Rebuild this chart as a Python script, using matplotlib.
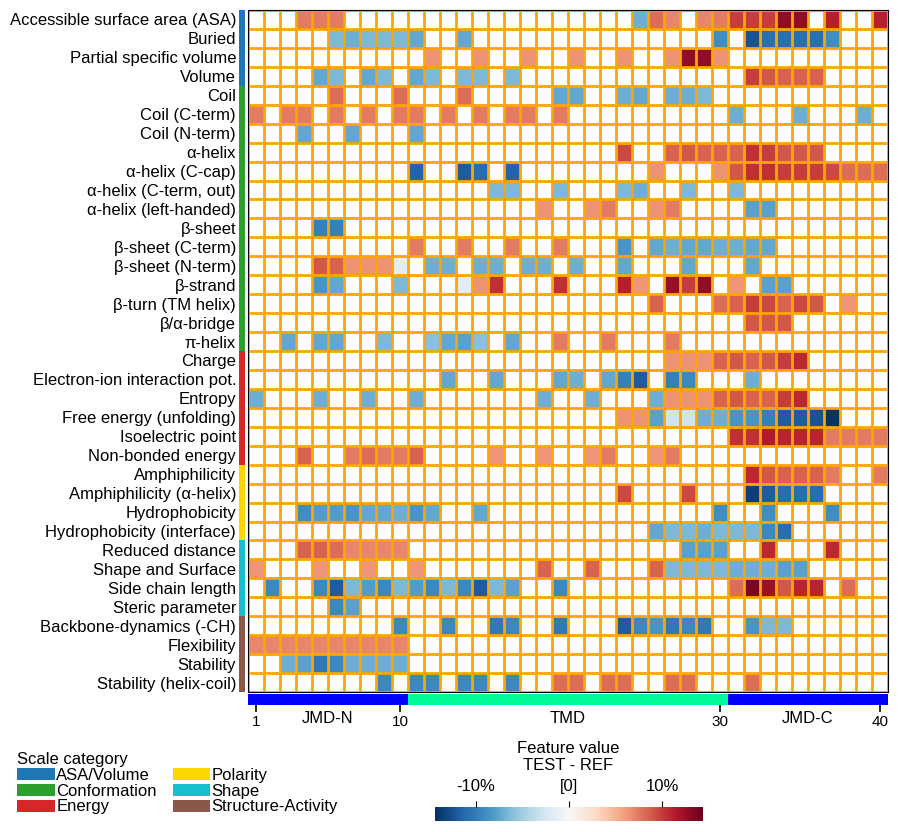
import numpy as np
import matplotlib
matplotlib.use("Agg")
import matplotlib.pyplot as plt
from matplotlib.colors import ListedColormap
from matplotlib.patches import Patch
from matplotlib.transforms import blended_transform_factory

plt.rcParams['font.family'] = ['Liberation Sans', 'DejaVu Sans']

N_POS = 40

# part lengths of the sequence (JMD-N / TMD / JMD-C)
jmd_n_len, tmd_len, jmd_c_len = 10, 20, 10
part_labels = ["JMD-N", "TMD", "JMD-C"]
pos_ticks = [1, 10, 30, 40]

# scale categories
categories = ["ASA/Volume", "Conformation", "Energy", "Polarity", "Shape", "Structure-Activity"]
cat_colors = ["#1f77b4", "#2ca02c", "#d62728", "gold", "#17becf", "#8c564b"]

# feature values (TEST - REF, %) per scale: {position: value}
asa_names = ["Accessible surface area (ASA)", "Buried", "Partial specific volume", "Volume"]
asa_vals = [
    {4: 7.5, 5: 7.5, 6: 7.5, 25: -7, 26: 8, 27: 7, 29: 7, 30: 7.5, 31: 10, 32: 10, 33: 10,
     34: 12.8, 35: 12.8, 37: 11.2, 40: 11.2},
    {6: -6.5, 7: -7, 8: -6.5, 9: -6.5, 10: -6.5, 11: -7.5, 14: -7.5, 30: -9, 32: -12.4,
     33: -10.9, 34: -10.9, 35: -10.9, 36: -10.9, 37: -9},
    {12: 6.5, 15: 6.5, 18: 6.5, 21: 6.5, 24: 6.5, 27: 6.5, 28: 12.8, 29: 12.8, 30: 6.5},
    {5: -7.5, 6: -6.5, 8: -7.5, 9: -6.5, 11: -7.5, 12: -6.5, 14: -6.5, 15: -6.5, 17: -6.5,
     32: 10, 33: 9, 34: 8.5, 35: 8.5, 36: 8.5},
]

conf_names = ["Coil", "Coil (C-term)", "Coil (N-term)", "α-helix", "α-helix (C-cap)",
              "α-helix (C-term, out)", "α-helix (left-handed)", "β-sheet", "β-sheet (C-term)",
              "β-sheet (N-term)", "β-strand", "β-turn (TM helix)", "β/α-bridge", "π-helix"]
conf_vals = [
    {6: 8, 10: 8, 14: 8, 20: -7.5, 21: -7.5, 24: -7, 25: -7.5, 27: -7, 28: -7, 29: -6.5},
    {1: 7.5, 3: 7.5, 4: 7.5, 6: 7.5, 8: 7.5, 10: 7.5, 11: 7.5, 13: 7.5, 15: 7.5, 17: 7.5,
     18: 7.5, 20: 7.5, 31: -7, 35: -7, 39: -7},
    {4: -7.5, 7: -7.5, 11: -7.5},
    {24: 9.5, 27: 8.5, 28: 9, 29: 8.5, 30: 8.5, 31: 8.5, 32: 10.5, 33: 10, 34: 9, 35: 9, 36: 9},
    {11: -11.5, 14: -12, 15: -11, 17: -11.5, 26: 6.5, 30: 6.5, 31: 9, 32: 10.5, 33: 10.5,
     34: 10, 35: 10, 36: 10, 37: 9.5, 38: 8, 39: 8, 40: 8},
    {16: -6.5, 17: -6.5, 20: -6.5, 24: -6.5, 25: -7, 28: -6.5, 31: -6.5},
    {19: 6.5, 22: 6.5, 23: 7.5, 26: 6.5, 27: 7.5, 32: -7.8, 33: -7.8},
    {5: -9.8, 6: -9.8},
    {11: 7.5, 14: 7.5, 17: 7.5, 20: 7.5, 24: -8.5, 26: -7.5, 27: -7, 28: -7.5, 29: -7.5,
     30: -7, 31: -7, 32: -7.5, 33: -7.5},
    {5: 9, 6: 8.5, 7: 6.5, 8: 6.5, 9: 6.5, 10: -1.5, 12: -7, 13: -7, 15: -7, 16: -7, 18: -7,
     19: -7, 21: -7, 24: -7.5, 28: -7.5, 32: -7.5},
    {5: -8.5, 6: -7.5, 10: -6.5, 14: -1.5, 15: 6.5, 16: 10.5, 20: 10.5, 24: 11.2, 25: 6.3,
     27: 12.5, 28: 10, 29: 12.8, 31: 6.3, 33: -7.8, 34: -7.8},
    {26: 8.5, 30: 8, 31: 8.5, 32: 10, 33: 9.5, 34: 8.5, 35: 9.5, 36: 9, 38: 6.3},
    {32: 9, 33: 9, 34: 9},
    {3: -7.5, 5: -7.5, 6: -7.5, 9: -6.5, 12: -6, 13: -7.5, 14: -7.8, 15: -6, 17: -7.5,
     20: 7.5, 23: 7.5, 27: 7.5},
]

energy_names = ["Charge", "Electron-ion interaction pot.", "Entropy", "Free energy (unfolding)",
                "Isoelectric point", "Non-bonded energy"]
energy_vals = [
    {27: 6.5, 28: 6.5, 29: 6.5, 30: 8.5, 31: 9, 32: 8.5, 33: 9, 34: 10, 35: 10.8},
    {13: -7.5, 16: -7.5, 20: -7.5, 21: -7, 23: -7.5, 24: -9.8, 25: -12, 27: -9.8, 28: -9.3,
     32: -7},
    {1: -7, 5: -7, 8: -7, 11: -7, 19: -7, 22: -7, 26: -7, 27: 6.5, 28: 6.5, 29: 6.5, 30: 8.5,
     31: 9, 32: 8.5, 33: 8.5, 34: 10, 35: 10.8},
    {24: 6.5, 25: 6.5, 26: -7.8, 27: -3, 28: -3, 29: -7, 30: -7, 31: -8.5, 32: -8.5, 33: -9.8,
     34: -12, 35: -12, 36: -12.4, 37: -14.2},
    {31: 10.5, 32: 10.5, 33: 11.5, 34: 11, 35: 11, 36: 11, 37: 7.5, 38: 7.5, 39: 7.5, 40: 7.5},
    {4: 8.5, 7: 7.5, 8: 8, 9: 7.5, 10: 7.5, 11: 8.5, 16: 6.3, 19: 6.3, 22: 6.3, 23: 7.5,
     26: 6.3, 27: 7.5},
]

polarity_names = ["Amphiphilicity", "Amphiphilicity (α-helix)", "Hydrophobicity",
                  "Hydrophobicity (interface)"]
polarity_vals = [
    {32: 10.8, 33: 9, 34: 8.5, 35: 8.5, 36: 8.5, 37: 7.5, 40: 7.5},
    {24: 9.5, 28: 9.5, 32: -13.6, 33: -12, 34: -11, 35: -11, 36: -11},
    {4: -9, 5: -8, 6: -8, 7: -8.5, 8: -7.5, 9: -7.5, 10: -7, 11: -8.5, 12: -7.5, 15: -7.5,
     30: -9, 33: -9, 37: -9},
    {26: -7.5, 27: -6.5, 28: -6.5, 29: -7, 30: -6.5, 31: -6.5, 32: -6.5, 33: -9.3, 34: -11},
]

shape_names = ["Reduced distance", "Shape and Surface", "Side chain length", "Steric parameter"]
shape_vals = [
    {4: 8.5, 5: 8.5, 6: 8, 7: 7, 8: 7, 9: 7, 10: 7, 28: -7.8, 29: -7.8, 30: -7.8, 33: 10.8,
     37: 10.8},
    {1: 6.3, 5: 6.3, 8: 6.3, 11: 6.3, 19: 8.5, 22: 8.5, 26: 8.5, 27: -6.5, 28: -6.5, 29: -6.5,
     30: -6.5, 31: -7, 32: -7, 33: -7, 34: -7.8, 35: -7.8},
    {2: -9.3, 5: -9.3, 6: -12, 7: -6.5, 8: -8, 9: -9.3, 10: -6.5, 11: -8, 12: -9.3, 13: -6.5,
     14: -9.3, 15: -12, 16: -6.5, 17: -7.8, 20: -9.3, 31: 8, 32: 13.7, 33: 12.4, 34: 9,
     35: 11, 36: 11, 38: 8},
    {6: -9.3, 7: -7.8},
]

struct_names = ["Backbone-dynamics (-CH)", "Flexibility", "Stability", "Stability (helix-coil)"]
struct_vals = [
    {10: -9.3, 13: -9.3, 16: -10.3, 17: -9.3, 20: -10.3, 24: -12, 25: -9.3, 26: -8.5,
     27: -10.3, 28: -9.3, 29: -10.3, 32: -8.5, 33: -6.5, 34: -6.5},
    {1: 7, 2: 7, 3: 7, 4: 7, 5: 7, 6: 7, 7: 7, 8: 7, 9: 7, 10: 7},
    {3: -7, 4: -7.8, 5: -10.3, 6: -9.3, 7: -7, 8: -7, 9: -7, 10: -7},
    {9: -9.3, 11: -9.3, 12: -9.3, 14: -9.3, 15: -9.3, 17: -9.3, 20: 8, 21: 8, 23: 8, 24: 8,
     27: 8, 28: 8, 32: 8},
]

cat_names = [asa_names, conf_names, energy_names, polarity_names, shape_names, struct_names]
cat_vals = [asa_vals, conf_vals, energy_vals, polarity_vals, shape_vals, struct_vals]

# build matrix
row_labels, rows, row_cat = [], [], []
for ci, (names, vals) in enumerate(zip(cat_names, cat_vals)):
    for name, d in zip(names, vals):
        r = np.full(N_POS, np.nan)
        for pos, v in d.items():
            r[pos - 1] = v
        rows.append(r)
        row_labels.append(name)
        row_cat.append(ci)
data = np.ma.masked_invalid(np.array(rows))
n_rows = data.shape[0]

W, H = 898, 832
fig = plt.figure(figsize=(W / 100, H / 100), dpi=100)


def px_axes(x0, y0, x1, y1):
    return fig.add_axes([x0 / W, 1 - y1 / H, (x1 - x0) / W, (y1 - y0) / H])


vmax = 14.4
ax = px_axes(248, 10, 888, 692)
mesh = ax.pcolormesh(np.arange(N_POS + 1), np.arange(n_rows + 1), data,
                     cmap="RdBu_r", vmin=-vmax, vmax=vmax)
ax.hlines(np.arange(n_rows + 1), 0, N_POS, color="orange", lw=2.0, zorder=3)
ax.vlines(np.arange(N_POS + 1), 0, n_rows, color="orange", lw=2.0, zorder=3)
ax.set_xlim(0, N_POS)
ax.set_ylim(n_rows, 0)
ax.set_xticks([])
ax.set_yticks(np.arange(n_rows) + 0.5)
ax.set_yticklabels(row_labels, fontsize=12)
ax.tick_params(axis="y", length=0, pad=8.6)
for s in ax.spines.values():
    s.set_linewidth(0.8)
    s.set_zorder(4)

# category strip
ax_cat = px_axes(239, 10, 245, 692)
ax_cat.pcolormesh(np.arange(2), np.arange(n_rows + 1), np.array(row_cat)[:, None],
                  cmap=ListedColormap(cat_colors), vmin=-0.5, vmax=len(cat_colors) - 0.5)
ax_cat.set_ylim(n_rows, 0)
ax_cat.axis("off")

# TMD / JMD bar
ax_bar = px_axes(248, 694, 888, 705)
part_idx = [0] * jmd_n_len + [1] * tmd_len + [0] * jmd_c_len
ax_bar.pcolormesh(np.arange(N_POS + 1), [0, 1], np.array([part_idx]),
                  cmap=ListedColormap(["#0000ff", "#00fa9a"]), vmin=0, vmax=1)
ax_bar.set_xlim(0, N_POS)
ax_bar.set_yticks([])
ax_bar.set_xticks([p - 0.5 for p in pos_ticks])
ax_bar.set_xticklabels([str(p) for p in pos_ticks], fontsize=11)
ax_bar.tick_params(axis="x", length=5, width=1.2, pad=2)
for s in ax_bar.spines.values():
    s.set_visible(False)
tr = blended_transform_factory(ax_bar.transData, ax_bar.transAxes)
starts = np.cumsum([0, jmd_n_len, tmd_len])
for st, ln, lab in zip(starts, [jmd_n_len, tmd_len, jmd_c_len], part_labels):
    ax_bar.text(st + ln / 2, -1.25, lab, transform=tr, ha="center", va="center", fontsize=12)

# legend
handles = [Patch(facecolor=c, edgecolor="none") for c in cat_colors]
fig.legend(handles, categories, ncol=2, title="Scale category", loc="upper left",
           bbox_to_anchor=(17 / W, 1 - 752 / H), frameon=False, fontsize=12,
           title_fontsize=12, alignment="left", handlelength=2.25, handleheight=0.75,
           labelspacing=0.05, handletextpad=0.1, columnspacing=0.95, borderpad=0,
           borderaxespad=0)

# colorbar
cax = px_axes(435, 807, 703, 821)
cb = fig.colorbar(mesh, cax=cax, orientation="horizontal", ticks=[-10, 0, 10])
cb.outline.set_visible(False)
cax.xaxis.set_ticks_position("top")
cax.set_xticklabels(["-10%", "[0]", "10%"], fontsize=12)
cax.tick_params(axis="x", length=4, pad=5.5)
fig.text(568 / W, 1 - 757 / H, "Feature value\nTEST - REF", ha="center", va="center",
         fontsize=12, linespacing=1.15)

fig.savefig("out.png", dpi=100)
